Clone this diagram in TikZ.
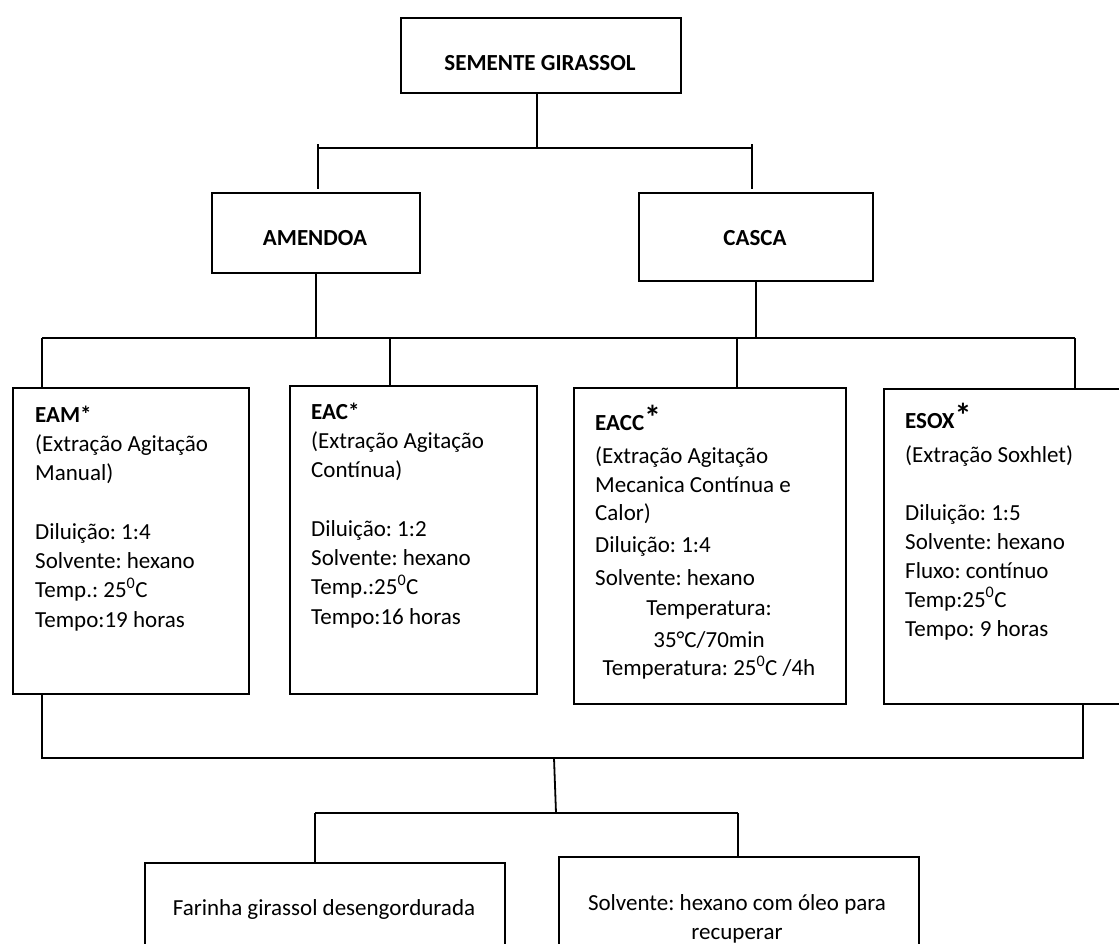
\documentclass[tikz,border=0pt]{standalone}
\usepackage{fontspec}
\setmainfont{Carlito}
\usetikzlibrary{calc}
\frenchspacing
\newcommand{\boxlines}[1]{\begin{tabular}[t]{@{}l@{}}#1\end{tabular}}
\newcommand{\boxlinesc}[1]{\begin{tabular}[t]{@{}c@{}}#1\end{tabular}}
\newcommand{\bigast}{{\fontsize{34}{34}\selectfont\raisebox{1pt}{*}}}
\newcommand{\degz}{\textsuperscript{0}}
\tikzset{
  x=1pt, y=-1pt,
  box/.style={draw, line width=1.8pt, rectangle, inner sep=0pt, anchor=north west},
  conn/.style={line width=1.8pt},
  txt/.style={inner sep=0pt, anchor=base west, font=\fontsize{23}{29.3}\selectfont},
  txtc/.style={inner sep=0pt, anchor=base, font=\fontsize{23}{29.3}\selectfont},
  head/.style={inner sep=0pt, anchor=base, font=\fontsize{23}{29}\selectfont\bfseries}
}
\begin{document}
\begin{tikzpicture}
\useasboundingbox (0,0) rectangle (1119,943);
\clip (0,0) rectangle (1119,943);
\fill[white] (0,0) rectangle (1119,943);

% boxes
\node[box, minimum width=280pt, minimum height=75pt] (sg) at (400,17) {};
\node[box, minimum width=208pt, minimum height=80pt] (am) at (211,192) {};
\node[box, minimum width=234pt, minimum height=88pt] (ca) at (638,192) {};
\node[box, minimum width=236pt, minimum height=306pt] (eam) at (12,387) {};
\node[box, minimum width=247pt, minimum height=308pt] (eac) at (289,385) {};
\node[box, minimum width=272pt, minimum height=316pt] (eacc) at (573,387) {};
\node[box, minimum width=280pt, minimum height=315pt] (esox) at (883,388) {};
\node[box, minimum width=360pt, minimum height=140pt] (far) at (144,862) {};
\node[box, minimum width=360pt, minimum height=140pt] (sol) at (558,856) {};

% headers
\node[head] (sgt) at (540,70) {SEMENTE GIRASSOL};
\node[head] (amt) at (315,245) {AMENDOA};
\node[head] (cat) at (755,245) {CASCA};

% texts
\node[txt] (eamt) at (35,422) {\boxlines{\textbf{EAM*}\\(Extração Agitação\\Manual)\\ \\Diluição: 1:4\\Solvente: hexano\\Temp.: 25\degz C\\Tempo:19 horas}};
\node[txt] (eact) at (311,419) {\boxlines{\textbf{EAC*}\\(Extração Agitação\\Contínua)\\ \\Diluição: 1:2\\Solvente: hexano\\Temp.:25\degz C\\Tempo:16 horas}};
\node[txt] (eacct) at (595,430) {\boxlines{\textbf{EACC\bigast}\\[4pt](Extração Agitação\\Mecanica Contínua e\\[-1pt]Calor)\\[2pt]Diluição: 1:4\\[4pt]Solvente: hexano}};
\node[txtc] (eacct2) at (709,615) {\boxlinesc{Temperatura:\\[3pt]35°C/70min\\[-1pt]Temperatura: 25\degz C /4h}};
\node[txt, font=\fontsize{23}{29}\selectfont] (esoxt) at (905,428) {\boxlines{\textbf{ESOX\bigast}\\[5pt](Extração Soxhlet)\\ \\Diluição: 1:5\\Solvente: hexano\\Fluxo: contínuo\\Temp:25\degz C\\Tempo: 9 horas}};
\node[txtc] (fart) at (324,915) {Farinha girassol desengordurada};
\node[txtc] (solt) at (737,910) {\boxlinesc{Solvente: hexano com óleo para\\recuperar}};

% level 1 connectors
\coordinate (j1) at (537,148);
\coordinate (j1l) at (318,148);
\coordinate (j1r) at (752,148);
\draw[conn] (sg.south -| j1) -- (j1);
\draw[conn] (j1l) -- (j1r);
\draw[conn] ($(j1l)+(0,-4)$) -- ($(am.north -| j1l)+(0,-3)$);
\draw[conn] ($(j1r)+(0,-4)$) -- ($(ca.north -| j1r)+(0,-3)$);

% level 2 connectors
\coordinate (b2l) at (42,338);
\coordinate (b2r) at (1075,338);
\coordinate (d2) at (390,338);
\coordinate (d3) at (737,338);
\draw[conn] (am.south) -- (am.south |- b2l);
\draw[conn] (ca.south) -- (ca.south |- b2l);
\draw[conn] (b2l) -- (b2r);
\draw[conn] (b2l) -- (eam.north -| b2l);
\draw[conn] (d2) -- (eac.north -| d2);
\draw[conn] (d3) -- (eacc.north -| d3);
\draw[conn] (b2r) -- (esox.north -| b2r);

% level 3 connectors
\coordinate (b3l) at (42,758);
\coordinate (b3r) at (1083,758);
\coordinate (t3a) at (554,758);
\coordinate (t3b) at (556,813);
\coordinate (b4l) at (315,813);
\coordinate (b4r) at (738,813);
\draw[conn] (eam.south -| b3l) -- (b3l) -- (b3r) -- (esox.south -| b3r);
\draw[conn] (t3a) -- (t3b);
\draw[conn] (b4l) -- (b4r);
\draw[conn] (b4l) -- (far.north -| b4l);
\draw[conn] (b4r) -- (sol.north -| b4r);
\end{tikzpicture}
\end{document}
